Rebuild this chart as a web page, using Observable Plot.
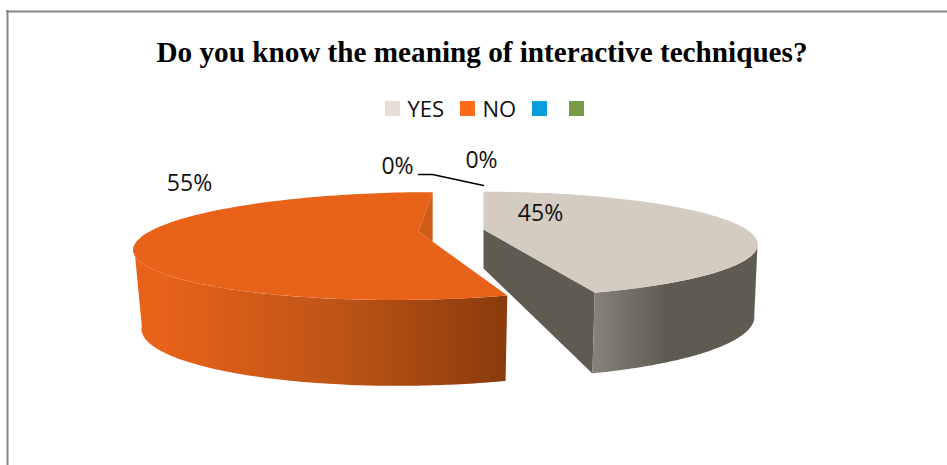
<!DOCTYPE html>
<html>
<head>
<meta charset="utf-8">
<script src="https://cdn.jsdelivr.net/npm/d3@7"></script>
<script src="https://cdn.jsdelivr.net/npm/@observablehq/plot@0.6"></script>
<style>
  html, body { margin: 0; background: #fff; }
  svg { display: block; }
</style>
</head>
<body>
<div id="chart"></div>
<script>
const titleText = "Do you know the meaning of interactive techniques?";
const categories = ["YES", "NO", "", ""];
const shares = [45, 55, 0, 0];
const swatchColors = ["#e6ddd3", "#ff6a1a", "#069fdc", "#7b9a45"];

const width = 947, height = 465;
const uiFont = "'Open Sans', sans-serif";

// Perspective ellipse for one exploded slice: rim(θ) gives the top or bottom edge point.
const rim = (d, θ) => {
  const X = Math.sin(θ), Y = -Math.cos(θ), s = 1 / (1 + d.k * Math.cos(θ));
  return [d.cx + (d.rx * X + d.a * Y) * s, d.cy + d.ry * Y * s];
};
const slices = [
  {
    top: {cx: 483, cy: 229, rx: 263, ry: 48.5, k: 0.283, a: 0},
    bottom: {cx: 482, cy: 299, rx: 261, ry: 57, k: 0.28, a: 0},
    wallDepth: 39,
    frontLimit: 1.83
  },
  {
    top: {cx: 418, cy: 231, rx: 269, ry: 50, k: 0.27, a: -18},
    bottom: {cx: 411, cy: 310, rx: 257, ry: 55, k: 0.27, a: -10},
    frontLimit: 1.62
  }
];

// Turn each share into start and end angles, clockwise from twelve o'clock.
let running = 0;
const turns = shares.map((v) => {
  const start = running / d3.sum(shares) * 2 * Math.PI;
  running += v;
  return {start, end: running / d3.sum(shares) * 2 * Math.PI};
});

const arc = (d, a, b, n = 120) => d3.range(n + 1).map((i) => rim(d, a + (b - a) * i / n));
const poly = (pts, fill) => Plot.line(pts, {x: (p) => p[0], y: (p) => p[1], fill, stroke: null});

const [yes, no] = slices;
const tYes = turns[0], tNo = turns[1];

// Top faces
const yesTop = [...arc(yes.top, tYes.start, tYes.end), [yes.top.cx, yes.top.cy]];
const noTop = [...arc(no.top, tNo.start, tNo.end), [no.top.cx, no.top.cy]];

// Outer curved walls, only the part facing the viewer
const yesSide = [...arc(yes.top, yes.frontLimit, tYes.end), ...arc(yes.bottom, tYes.end, yes.frontLimit)];
const noSide = [...arc(no.top, tNo.start, tNo.start + no.frontLimit), ...arc(no.bottom, tNo.start + no.frontLimit, tNo.start)];

// Flat cut wall of the YES slice, running from its centre out to the rim
const yesFoot = [yes.top.cx, yes.top.cy + yes.wallDepth];
const yesCut = [[yes.top.cx, yes.top.cy], rim(yes.top, tYes.end), rim(yes.bottom, tYes.end), yesFoot];

// Small inner wall of the NO slice, seen through the notch at the back
const noBack = rim(no.top, tNo.end), noFront = rim(no.top, tNo.start);
const noNotchEnd = [noBack[0], no.top.cy + (noFront[1] - no.top.cy) * (noBack[0] - no.top.cx) / (noFront[0] - no.top.cx)];
const noWall = [noBack, [no.top.cx, no.top.cy], noNotchEnd];

const stops = (id, list) => `<linearGradient id="${id}">${list.map(([o, c]) => `<stop offset="${o}" stop-color="${c}"/>`).join("")}</linearGradient>`;
const gradients = () => {
  const defs = document.createElementNS("http://www.w3.org/2000/svg", "defs");
  defs.innerHTML =
    stops("noWallShade", [[0, "#e8621a"], [0.08, "#e8621a"], [0.55, "#bd5415"], [1, "#8a3b0d"]]) +
    stops("yesWallShade", [[0, "#87837a"], [0.45, "#5f5b51"], [1, "#5f5b51"]]);
  return defs;
};

// Legend row
const legendRows = categories.map((name, i) => ({name, color: swatchColors[i], x0: [385, 460, 532, 569][i]}));

const chart = Plot.plot({
  width, height,
  margin: 0,
  style: {background: "#fff"},
  x: {type: "linear", domain: [0, width], range: [0, width], axis: null},
  y: {type: "linear", domain: [0, height], range: [0, height], axis: null},
  marks: [
    gradients,
    // frame
    Plot.ruleY([11], {x1: 6, x2: width, stroke: "#868686", strokeWidth: 2}),
    Plot.ruleX([7], {y1: 10, y2: height, stroke: "#868686", strokeWidth: 2}),
    // YES slice first so the NO slice overlaps where they meet
    poly(yesCut, "#5f5b51"),
    poly(yesSide, "url(#yesWallShade)"),
    poly(yesTop, "#d4ccc1"),
    poly(noSide, "url(#noWallShade)"),
    poly(noTop, "#e8621a"),
    poly(noWall, "#d05c17"),
    // leader from the zero-share label
    Plot.line([[418, 174], [432, 174], [483, 185]], {x: (p) => p[0], y: (p) => p[1], stroke: "#000", strokeWidth: 1.6}),
    // title
    Plot.text([titleText], {x: 481.5, y: 52, text: (d) => d, fontFamily: "'Liberation Serif', serif", fontWeight: "bold", fontSize: 29.2, fill: "#000"}),
    // legend
    Plot.rect(legendRows, {x1: "x0", x2: (d) => d.x0 + 15, y1: 101, y2: 116, fill: "color"}),
    Plot.text(legendRows, {x: (d) => d.x0 + 22, y: 109.5, text: "name", textAnchor: "start", fontFamily: uiFont, fontSize: 22, fill: "#111"}),
    // value labels
    Plot.text([
      {t: `${shares[1]}%`, x: 189, y: 183},
      {t: `${shares[0]}%`, x: 540, y: 213},
      {t: `${shares[2]}%`, x: 397, y: 166},
      {t: `${shares[3]}%`, x: 481, y: 160}
    ], {x: "x", y: "y", text: "t", fontFamily: uiFont, fontSize: 23, fill: "#111"})
  ]
});
document.getElementById("chart").append(chart);
</script>
</body>
</html>
